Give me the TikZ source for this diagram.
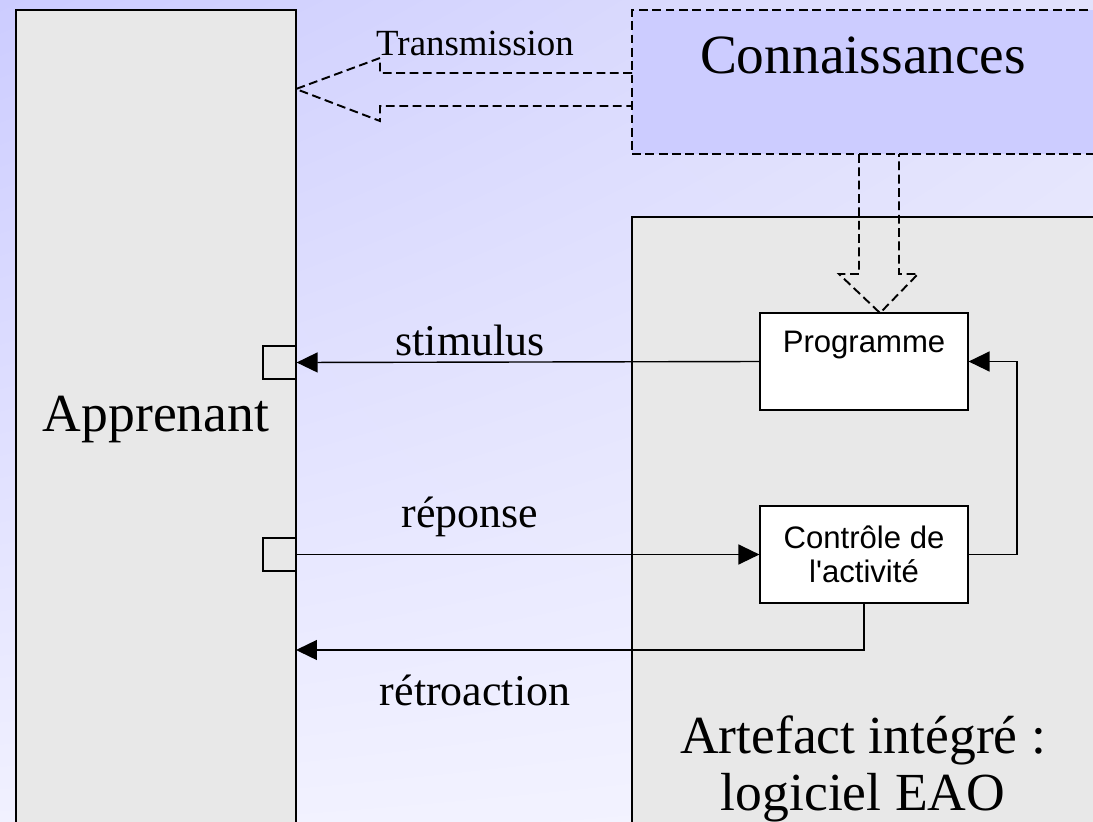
\documentclass[tikz,border=0pt]{standalone}
\usepackage{fontspec}
\setmainfont{Liberation Serif}
\newfontfamily\boxfont{Liberation Sans}
\usetikzlibrary{arrows.meta,positioning,shadings}
\definecolor{fondhg}{RGB}{204,204,255}
\definecolor{fondhd}{RGB}{226,226,252}
\definecolor{fondbg}{RGB}{241,241,255}
\definecolor{fondbd}{RGB}{244,244,255}
\definecolor{grisbloc}{RGB}{232,232,232}
\definecolor{bleuconn}{RGB}{204,204,255}
\tikzset{
  bloc/.style={draw=black, fill=grisbloc, line width=0.8pt, inner sep=0pt},
  boite/.style={draw=black, fill=white, line width=0.7pt, inner sep=0pt,
    minimum width=4.16cm, minimum height=1.94cm},
  boxtxt/.style={font=\boxfont\fontsize{17.7}{19}\selectfont, align=center},
  grand/.style={font=\fontsize{30.5}{32.5}\selectfont, align=center},
  etiq/.style={font=\fontsize{25}{30}\selectfont},
  lien/.style={line width=0.8pt, -{Triangle[length=0.42cm,width=0.4cm]}},
  tirets/.style={dash pattern=on 5pt off 2.6pt},
  creux/.style={tirets, line width=1.1pt},
  port/.style={draw=black, fill=grisbloc, line width=0.7pt, inner sep=0pt, minimum size=0.66cm}
}
\begin{document}
\begin{tikzpicture}[x=0.02cm,y=-0.02cm]
  \def\larg{1093}
  \def\haut{822}
  \useasboundingbox (0,0) rectangle (\larg,\haut);
  \clip (0,0) rectangle (\larg,\haut);
  \shade[upper left=fondhg, upper right=fondhd, lower left=fondbg, lower right=fondbd]
    (0,0) rectangle (\larg,\haut);
  % blocs
  \node[bloc, grand, minimum width=5.6cm, minimum height=16.4cm] (app) at (156,420) {Apprenant};
  \node[bloc, fill=bleuconn, tirets, line width=1.1pt, minimum width=9.4cm, minimum height=2.88cm] (conn) at (867,82) {};
  \node[grand, font=\fontsize{31.5}{34}\selectfont] (connnom) at (863,55) {Connaissances};
  \node[bloc, minimum width=9.4cm, minimum height=12.4cm] (artef) at (867,527) {};
  \node[grand] (artefnom) at (863,769) {Artefact intégré :\\logiciel EAO};
  % fleches creuses
  \draw[creux] (632,73) -- (380,73) -- (380,58) -- (296,89) -- (380,121) -- (380,106) -- (632,106);
  \node[etiq, font=\fontsize{21}{25}\selectfont] (transm) at (475,43) {Transmission};
  \draw[creux] (859,154) -- (859,274) -- (839,274) -- (880,313) -- (918,274) -- (899,274) -- (899,154);
  % boites du logiciel
  \node[boite] (prog) at (864,361.5) {};
  \node[boxtxt] (progtxt) at (864,345) {Programme};
  \node[boite, boxtxt] (ctrl) at (864,554.5) {Contrôle de\\l\textquotesingle activité};
  \node[port] (portA) at (279.5,362.5) {};
  \node[port] (portB) at (279.5,554.5) {};
  \coordinate (retour) at (296,650);
  \coordinate (boucle) at (1017,458);
  % liaisons
  \draw[lien] (prog.west) -- (portA.east);
  \draw[lien] (portB.east) -- (ctrl.west);
  \draw[lien] (ctrl.south) |- (retour);
  \draw[lien] (ctrl.east) -| (boucle) |- (prog.east);
  \node[etiq] (stim) at (470,340) {stimulus};
  \node[etiq] (rep) at (470,517) {réponse};
  \node[etiq] (retro) at (475,690) {rétroaction};
\end{tikzpicture}
\end{document}
